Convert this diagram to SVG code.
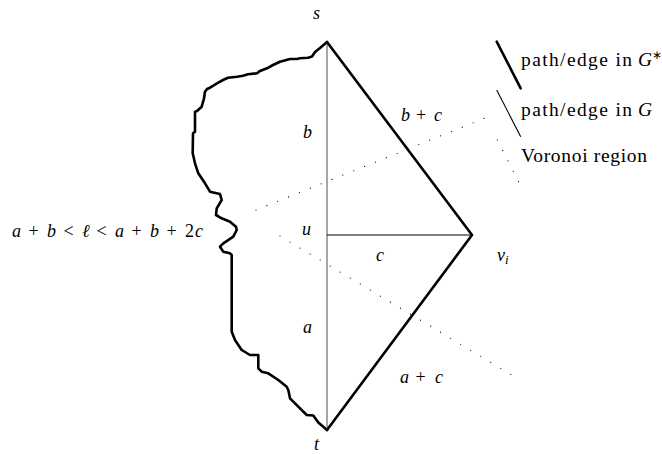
<svg xmlns="http://www.w3.org/2000/svg" width="662" height="454" viewBox="0 0 662 454">
<style>
text{font-family:"Liberation Serif","Times New Roman",serif;font-size:18px;fill:#000}
.i{font-style:italic}
.lg{font-size:19.5px}
.thick{stroke:#000;stroke-width:2.6;fill:none;stroke-linejoin:round;stroke-linecap:round}
.thin{stroke:#000;stroke-width:1.1;fill:none}
.gray{stroke:#808080;stroke-width:1.4;fill:none}
.dot{stroke:#000;stroke-width:1.2;fill:none;stroke-linecap:round;stroke-dasharray:0 11.7}
</style>
<rect width="662" height="454" fill="#fff"/>
<g id="connectors">
<path id="wiggle" class="thick" stroke-width="3" d="M327,42 L320,48 L315,52 L312,56.5 L308,57.7 L300,58.3 L297,59 L290,59 L280,61.7 L273,65 L267,68.3 L260,71 L257,73.3 L248,74.3 L243,75.7 L237,76.7 L228,77.7 L223,80 L217,83.3 L210,87.7 L207,89 L205,91.7 L204,98.3 L201.7,106.7 L197,111 L195,111.7 L195,131.7 L193,133.3 L192.7,153.3 L195,163.3 L198.3,173.3 L205,183.3 L210,191.7 L220,194 L221.7,200 L216.7,208.3 L216,215 L221.7,218.3 L230,221.7 L236,226.7 L236.7,230 L233.3,236.7 L223.3,243.3 L220,246.7 L223.3,251.7 L230,253.3 L231.7,255 L231.7,331.7 L235,340 L241.7,350 L250,355 L258.3,355 L258.3,368.3 L261.7,371.7 L268.3,373.3 L278.3,380 L286.7,386.7 L288.3,390 L290,398.3 L306.7,415 L313.3,415.5 L318.3,422.5 L327,430"/>
<line class="gray" x1="327" y1="42" x2="327" y2="430"/>
<line class="thin" x1="327" y1="235" x2="472" y2="235"/>
<polyline class="thick" points="327,42 472,235 327,430"/>
<line class="dot" x1="256" y1="210" x2="490" y2="116"/>
<line class="dot" x1="280" y1="236" x2="517" y2="378"/>
</g>
<g id="node-s"><text class="i" x="313" y="19">s</text></g>
<g id="node-t"><text class="i" x="314" y="450">t</text></g>
<g id="node-u"><text class="i" x="302" y="235">u</text></g>
<g id="node-vi"><text class="i" x="497" y="261">v<tspan font-size="13" dy="3">i</tspan></text></g>
<g id="label-b"><text class="i" x="303" y="138">b</text></g>
<g id="label-a"><text class="i" x="303" y="333">a</text></g>
<g id="label-c"><text class="i" x="376" y="261">c</text></g>
<g id="label-bc"><text y="121"><tspan class="i" x="401">b</tspan><tspan x="416">+</tspan><tspan class="i" x="434">c</tspan></text></g>
<g id="label-ac"><text y="383"><tspan class="i" x="400">a</tspan><tspan x="415.5">+</tspan><tspan class="i" x="435">c</tspan></text></g>
<g id="label-ell"><text y="237"><tspan class="i" x="12">a</tspan><tspan x="28.5">+</tspan><tspan class="i" x="47">b</tspan><tspan x="63.5">&lt;</tspan><tspan class="i" x="82">ℓ</tspan><tspan x="96.5">&lt;</tspan><tspan class="i" x="115">a</tspan><tspan x="131.5">+</tspan><tspan class="i" x="150">b</tspan><tspan x="166.5">+</tspan><tspan x="185">2</tspan><tspan class="i" x="195">c</tspan></text></g>
<g id="legend">
<line class="thick" stroke-width="3" x1="496.7" y1="41.7" x2="520.7" y2="88.3"/>
<text class="lg" y="66"><tspan x="521" textLength="111" lengthAdjust="spacing">path/edge in</tspan><tspan class="i" x="638">G</tspan><tspan font-size="12" x="652" dy="-7">∗</tspan></text>
<line class="thin" x1="496.7" y1="90" x2="520.7" y2="136.7"/>
<text class="lg" y="116"><tspan x="521" textLength="111" lengthAdjust="spacing">path/edge in</tspan><tspan class="i" x="638">G</tspan></text>
<line class="dot" x1="497.3" y1="140" x2="519" y2="182.7"/>
<text class="lg" x="521" y="162" textLength="126" lengthAdjust="spacing">Voronoi region</text>
</g>
</svg>
